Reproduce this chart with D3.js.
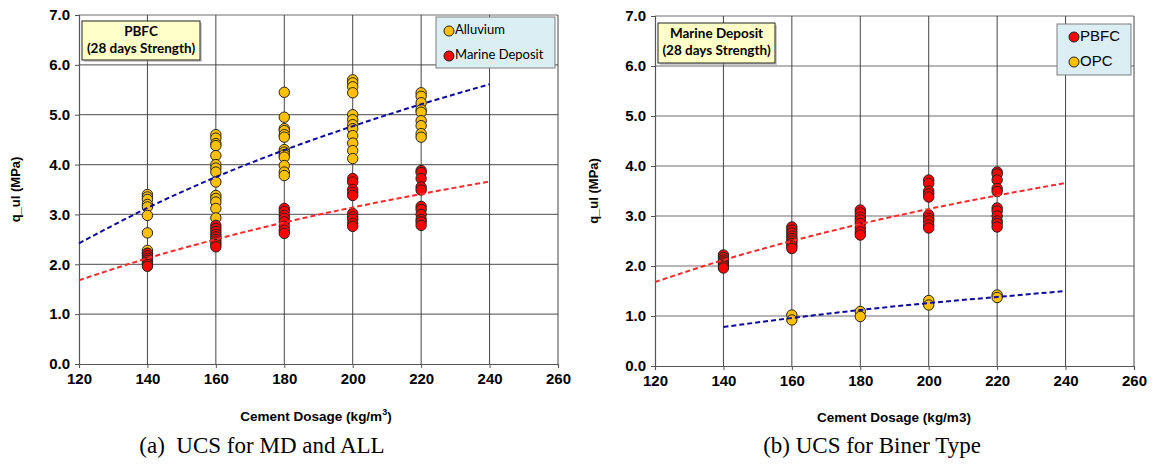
<!DOCTYPE html>
<html>
<head>
<meta charset="utf-8">
<script src="https://cdn.jsdelivr.net/npm/d3@7"></script>
<style>
  html, body { margin: 0; padding: 0; background: #fff; }
  svg { display: block; }
  .tick text { font-family: "Liberation Sans", Arial, sans-serif; font-weight: bold; font-size: 15px; fill: #000; }
</style>
</head>
<body>
<svg id="chart" width="1154" height="468"></svg>
<script>
// Cement dosage columns (kg/m3) where specimens were tested
const dosages = [140, 160, 180, 200, 220];

// 28-day UCS (MPa) of PBFC-stabilised alluvium, one list per dosage
const alluvium = [
  [3.40, 3.35, 3.30, 3.20, 3.15, 2.98, 2.63, 2.28, 2.22],
  [4.60, 4.53, 4.42, 4.38, 4.18, 4.00, 3.93, 3.85, 3.65, 3.38, 3.32, 3.25, 3.12, 2.93],
  [5.45, 4.95, 4.72, 4.68, 4.60, 4.55, 4.30, 4.25, 4.20, 4.15, 3.98, 3.85, 3.78],
  [5.70, 5.64, 5.56, 5.44, 5.00, 4.90, 4.80, 4.72, 4.58, 4.43, 4.28, 4.12],
  [5.44, 5.37, 5.24, 5.10, 5.05, 4.88, 4.78, 4.62, 4.55]
];

// 28-day UCS (MPa) of PBFC-stabilised marine deposit
const marinePBFC = [
  [2.22, 2.17, 2.12, 2.08, 2.04, 2.00, 1.96],
  [2.78, 2.72, 2.66, 2.60, 2.55, 2.50, 2.45, 2.40, 2.35],
  [3.12, 3.06, 2.98, 2.92, 2.85, 2.76, 2.68, 2.62],
  [3.72, 3.65, 3.50, 3.44, 3.38, 3.02, 2.95, 2.90, 2.82, 2.76],
  [3.88, 3.84, 3.72, 3.55, 3.49, 3.16, 3.10, 3.00, 2.90, 2.85, 2.78]
];

// 28-day UCS (MPa) of OPC-stabilised marine deposit (no 140 kg/m3 specimens)
const opcDosages = [160, 180, 200, 220];
const marineOPC = [
  [1.02, 0.92],
  [1.09, 0.99],
  [1.31, 1.22],
  [1.42, 1.37]
];

// Logarithmic trendlines, values along dosage
const trendX = [120, 140, 160, 180, 200, 220, 240];
const alluviumTrend = [2.42, 3.13, 3.75, 4.29, 4.77, 5.21, 5.61];
const marineTrend = [1.68, 2.12, 2.50, 2.84, 3.14, 3.41, 3.66];
const opcTrendX = [140, 160, 180, 200, 220, 240];
const opcTrend = [0.78, 0.96, 1.12, 1.26, 1.38, 1.50];

// Axis ticks
const xTicks = [120, 140, 160, 180, 200, 220, 240, 260];
const yTicks = [0, 1, 2, 3, 4, 5, 6, 7];

const YELLOW = "#FFC000";
const RED = "#FF0000";
const BLUE_LINE = "#0A0AA0";
const RED_LINE = "#FF2A2A";

const svg = d3.select("#chart");

function flatten(xs, groups) {
  const out = [];
  groups.forEach((vals, i) => vals.forEach(v => out.push({ x: xs[i], y: v })));
  return out;
}

function panel(opts) {
  const x = d3.scaleLinear().domain([120, 260]).range([opts.left, opts.right]);
  const y = d3.scaleLinear().domain([0, 7]).range([opts.bottom, opts.top]);
  const g = svg.append("g");

  // horizontal grid
  g.append("g").selectAll("line").data(yTicks.filter(t => t > 0)).join("line")
    .attr("x1", opts.left).attr("x2", opts.right)
    .attr("y1", d => y(d)).attr("y2", d => y(d))
    .attr("stroke", "#6e6e6e").attr("stroke-width", 1.2);
  // vertical grid
  g.append("g").selectAll("line").data(xTicks.filter(t => t > 120)).join("line")
    .attr("x1", d => x(d)).attr("x2", d => x(d))
    .attr("y1", opts.top).attr("y2", opts.bottom)
    .attr("stroke", "#444").attr("stroke-width", 1);

  // axes
  const yAxis = d3.axisLeft(y).tickValues(yTicks).tickFormat(d3.format(".1f")).tickSizeOuter(0).tickSize(4).tickPadding(5);
  const xAxis = d3.axisBottom(x).tickValues(xTicks).tickFormat(d3.format("d")).tickSizeOuter(0).tickSize(4).tickPadding(5);
  const ya = g.append("g").attr("transform", `translate(${opts.left},0)`).call(yAxis);
  const xa = g.append("g").attr("transform", `translate(0,${opts.bottom})`).call(xAxis);
  [ya, xa].forEach(a => {
    a.select(".domain").attr("stroke", "#555").attr("stroke-width", 1.2);
    a.selectAll(".tick line").attr("stroke", "#555");
  });

  // annotation box
  const nb = opts.note;
  g.append("rect").attr("x", nb.x + 2).attr("y", nb.y + 2).attr("width", nb.w).attr("height", nb.h)
    .attr("fill", "#9a9a9a").attr("opacity", 0.5);
  g.append("rect").attr("x", nb.x).attr("y", nb.y).attr("width", nb.w).attr("height", nb.h)
    .attr("fill", "#FFFFC8").attr("stroke", "#222").attr("stroke-width", 1);
  nb.lines.forEach((t, i) => {
    g.append("text").attr("x", nb.x + nb.w / 2).attr("y", nb.y + 12 + i * 17)
      .attr("text-anchor", "middle").attr("dominant-baseline", "middle")
      .attr("font-family", "Lato, 'Open Sans', sans-serif").attr("font-weight", "bold")
      .attr("font-size", 13.5).text(t);
  });

  // points
  opts.series.forEach(s => {
    g.append("g").selectAll("circle").data(s.points).join("circle")
      .attr("cx", d => x(d.x)).attr("cy", d => y(d.y)).attr("r", 5.2)
      .attr("fill", s.color).attr("stroke", "#222").attr("stroke-width", 1);
  });

  // trendlines
  const line = d3.line().x(d => x(d[0])).y(d => y(d[1])).curve(d3.curveMonotoneX);
  opts.trends.forEach(t => {
    g.append("path").datum(t.xs.map((v, i) => [v, t.ys[i]]))
      .attr("d", line).attr("fill", "none").attr("stroke", t.color)
      .attr("stroke-width", 2).attr("stroke-dasharray", "5,3");
  });

  // legend
  const lg = opts.legend;
  g.append("rect").attr("x", lg.x).attr("y", lg.y).attr("width", lg.w).attr("height", lg.h)
    .attr("fill", "#DAEEF3").attr("stroke", "#7f7f7f").attr("stroke-width", 1);
  lg.items.forEach((it, i) => {
    const cy = lg.y + lg.first + i * lg.step;
    g.append("circle").attr("cx", lg.x + lg.dotX).attr("cy", cy).attr("r", 5)
      .attr("fill", it.color).attr("stroke", "#222").attr("stroke-width", 1);
    g.append("text").attr("x", lg.x + lg.dotX + 6).attr("y", cy)
      .attr("dominant-baseline", "middle").attr("font-family", lg.font)
      .attr("font-size", lg.size).attr("fill", "#000").text(it.label);
  });

  // axis titles
  g.append("text")
    .attr("transform", `translate(${opts.yTitleX},${(opts.top + opts.bottom) / 2}) rotate(-90)`)
    .attr("text-anchor", "middle").attr("dominant-baseline", "middle")
    .attr("font-family", "'Liberation Sans', Arial, sans-serif").attr("font-weight", "bold")
    .attr("font-size", 13).text("q_ul (MPa)");
  const xt = g.append("text").attr("x", opts.xTitleX).attr("y", opts.xTitleY)
    .attr("text-anchor", "middle").attr("dominant-baseline", "middle")
    .attr("font-family", "'Liberation Sans', Arial, sans-serif").attr("font-weight", "bold")
    .attr("font-size", 13.5);
  opts.xTitle(xt);

  // caption
  g.append("text").attr("x", opts.capX).attr("y", 448)
    .attr("text-anchor", "middle").attr("dominant-baseline", "middle")
    .attr("font-family", "'Liberation Serif', 'Times New Roman', serif")
    .attr("font-size", 23).attr("xml:space", "preserve").text(opts.caption);
}

panel({
  left: 79, right: 558, top: 15, bottom: 364,
  note: { x: 82, y: 21, w: 118, h: 39, lines: ["PBFC", "(28 days Strength)"] },
  legend: { x: 436, y: 17, w: 119, h: 51, first: 14, step: 25, dotX: 13, size: 13,
            font: "Lato, 'Open Sans', sans-serif",
            items: [{ label: "Alluvium", color: YELLOW }, { label: "Marine Deposit", color: RED }] },
  series: [
    { points: flatten(dosages, alluvium), color: YELLOW },
    { points: flatten(dosages, marinePBFC), color: RED }
  ],
  trends: [
    { xs: trendX, ys: alluviumTrend, color: BLUE_LINE },
    { xs: trendX, ys: marineTrend, color: RED_LINE }
  ],
  yTitleX: 17, xTitleX: 316, xTitleY: 417,
  xTitle: t => { t.append("tspan").text("Cement Dosage (kg/m"); t.append("tspan").attr("font-size", 9).attr("dy", -4).text("3"); t.append("tspan").attr("dy", 4).text(")"); },
  capX: 262, caption: "(a)  UCS for MD and ALL"
});

panel({
  left: 655, right: 1134, top: 16, bottom: 366,
  note: { x: 658, y: 23, w: 117, h: 40, lines: ["Marine Deposit", "(28 days Strength)"] },
  legend: { x: 1057, y: 24, w: 74, h: 51, first: 13, step: 25, dotX: 17, size: 15,
            font: "'Liberation Sans', Arial, sans-serif",
            items: [{ label: "PBFC", color: RED }, { label: "OPC", color: YELLOW }] },
  series: [
    { points: flatten(dosages, marinePBFC), color: RED },
    { points: flatten(opcDosages, marineOPC), color: YELLOW }
  ],
  trends: [
    { xs: trendX, ys: marineTrend, color: RED_LINE },
    { xs: opcTrendX, ys: opcTrend, color: BLUE_LINE }
  ],
  yTitleX: 595, xTitleX: 894, xTitleY: 418,
  xTitle: t => t.text("Cement Dosage (kg/m3)"),
  capX: 872, caption: "(b) UCS for Biner Type"
});
</script>
</body>
</html>
